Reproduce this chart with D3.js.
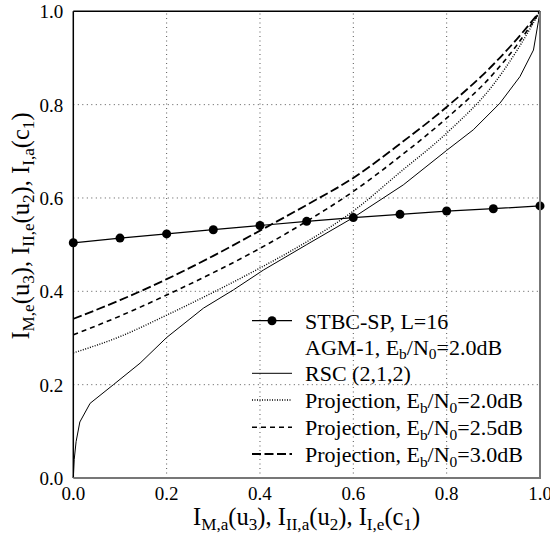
<!DOCTYPE html>
<html>
<head>
<meta charset="utf-8">
<script src="https://cdn.jsdelivr.net/npm/d3@7"></script>
<style>
  body { margin: 0; background: #fff; }
</style>
</head>
<body>
<div id="chart"></div>
<script>
// values
const ticks = [0.0, 0.2, 0.4, 0.6, 0.8, 1.0];
const gridTicks = [0.2, 0.4, 0.6, 0.8];

const stbcX = [0, 0.1, 0.2, 0.3, 0.4, 0.5, 0.6, 0.7, 0.8, 0.9, 1.0];
const stbcY = [0.504, 0.514, 0.523, 0.532, 0.541, 0.550, 0.558, 0.565, 0.572, 0.577, 0.583];

const rscX = [0, 0.002, 0.006, 0.014, 0.036, 0.086, 0.143, 0.2, 0.279, 0.343, 0.408, 0.5, 0.6, 0.707, 0.8, 0.857, 0.914, 0.957, 0.986, 0.997, 1.0];
const rscY = [0, 0.04, 0.078, 0.12, 0.16, 0.2, 0.246, 0.301, 0.364, 0.403, 0.446, 0.5, 0.558, 0.628, 0.702, 0.746, 0.803, 0.86, 0.917, 0.981, 1.0];

const projX = [0, 0.1, 0.2, 0.3, 0.4, 0.5, 0.6, 0.7, 0.8, 0.9, 0.95, 1.0];
const proj20 = [0.268, 0.303, 0.349, 0.398, 0.450, 0.506, 0.572, 0.655, 0.739, 0.843, 0.915, 1.0];
const proj25 = [0.307, 0.347, 0.392, 0.440, 0.492, 0.550, 0.614, 0.689, 0.771, 0.866, 0.927, 1.0];
const proj30 = [0.341, 0.381, 0.426, 0.476, 0.530, 0.585, 0.643, 0.716, 0.795, 0.886, 0.940, 1.0];

const width = 550, height = 535;
const plotLeft = 73.3, plotTop = 11.3, plotW = 466.7, plotH = 466.7;
const font = "'Liberation Serif', 'Times New Roman', 'DejaVu Serif', serif";
const tickSize = 19, legendSize = 22, labelSize = 24.5;

const svg = d3.select("#chart").append("svg")
    .attr("width", width)
    .attr("height", height)
    .attr("font-family", font);

const x = d3.scaleLinear().domain([0, 1]).range([plotLeft, plotLeft + plotW]);
const y = d3.scaleLinear().domain([0, 1]).range([plotTop + plotH, plotTop]);

// grid
const grid = svg.append("g")
    .attr("stroke", "#555")
    .attr("stroke-width", 1)
    .attr("stroke-dasharray", "1,3.5");
grid.selectAll(".gx").data(gridTicks).enter().append("line")
    .attr("x1", d => x(d)).attr("x2", d => x(d))
    .attr("y1", y(0)).attr("y2", y(1));
grid.selectAll(".gy").data(gridTicks).enter().append("line")
    .attr("y1", d => y(d)).attr("y2", d => y(d))
    .attr("x1", x(0)).attr("x2", x(1));

// tick labels
svg.selectAll(".xt").data(ticks).enter().append("text")
    .attr("x", d => x(d))
    .attr("y", y(0) + 22)
    .attr("text-anchor", "middle")
    .attr("font-size", tickSize)
    .text(d => d.toFixed(1));
svg.selectAll(".yt").data(ticks).enter().append("text")
    .attr("x", x(0) - 10)
    .attr("y", d => y(d) + 7)
    .attr("text-anchor", "end")
    .attr("font-size", tickSize)
    .text(d => d.toFixed(1));

// curves
const line = d3.line()
    .x(d => x(d[0]))
    .y(d => y(d[1]));

const zip = (xs, ys) => xs.map((v, i) => [v, ys[i]]);

const series = [
    { data: zip(rscX, rscY), dash: null, w: 1 },
    { data: zip(projX, proj20), dash: "1,1.5", w: 1.4 },
    { data: zip(projX, proj25), dash: "5,4", w: 1.6 },
    { data: zip(projX, proj30), dash: "9,3.5", w: 1.8 }
];
series.forEach(s => {
    svg.append("path")
        .attr("d", line.curve(s.dash ? d3.curveMonotoneX : d3.curveLinear)(s.data))
        .attr("fill", "none")
        .attr("stroke", "#000")
        .attr("stroke-width", s.w)
        .attr("stroke-dasharray", s.dash);
});

const stbc = zip(stbcX, stbcY);
svg.append("path")
    .attr("d", line.curve(d3.curveLinear)(stbc))
    .attr("fill", "none")
    .attr("stroke", "#000")
    .attr("stroke-width", 1.2);
svg.selectAll(".pt").data(stbc).enter().append("circle")
    .attr("cx", d => x(d[0]))
    .attr("cy", d => y(d[1]))
    .attr("r", 4.5)
    .attr("fill", "#000");

// frame
svg.append("line").attr("x1", x(0)).attr("x2", x(1)).attr("y1", y(1)).attr("y2", y(1))
    .attr("stroke", "#000").attr("stroke-width", 1.5);
svg.append("line").attr("x1", x(0)).attr("x2", x(0)).attr("y1", y(0)).attr("y2", y(1))
    .attr("stroke", "#000").attr("stroke-width", 1.5);
svg.append("line").attr("x1", x(1)).attr("x2", x(1)).attr("y1", y(0) + 1).attr("y2", y(1))
    .attr("stroke", "#777").attr("stroke-width", 2);
svg.append("line").attr("x1", x(0)).attr("x2", x(1) + 1).attr("y1", y(0)).attr("y2", y(0))
    .attr("stroke", "#777").attr("stroke-width", 2);

// text with subscripts: parts = [[string, isSub], ...]
function richText(sel, parts, size) {
    let sub = false;
    parts.forEach(p => {
        const t = sel.append("tspan").text(p[0]);
        if (p[1]) t.attr("font-size", size * 0.7);
        if (p[1] && !sub) { t.attr("dy", size * 0.22); sub = true; }
        else if (!p[1] && sub) { t.attr("dy", -size * 0.22); sub = false; }
    });
}

// axis labels
const xl = svg.append("text")
    .attr("x", x(0.5))
    .attr("y", 525)
    .attr("text-anchor", "middle")
    .attr("font-size", labelSize);
richText(xl, [["I"], ["M,a", 1], ["(u"], ["3", 1], ["), I"], ["II,a", 1], ["(u"], ["2", 1], ["), I"], ["I,e", 1], ["(c"], ["1", 1], [")"]], labelSize);

const yl = svg.append("text")
    .attr("transform", "translate(28.5,226) rotate(-90)")
    .attr("text-anchor", "middle")
    .attr("font-size", labelSize);
richText(yl, [["I"], ["M,e", 1], ["(u"], ["3", 1], ["), I"], ["II,e", 1], ["(u"], ["2", 1], ["), I"], ["I,a", 1], ["(c"], ["1", 1], [")"]], labelSize);

// legend
const legendRows = [
    { y: 320.7, kind: "marker", parts: [["STBC-SP, L=16"]] },
    { y: 346.5, kind: "none", parts: [["AGM-1, E"], ["b", 1], ["/N"], ["0", 1], ["=2.0dB"]] },
    { y: 373.3, kind: "solid", parts: [["RSC (2,1,2)"]] },
    { y: 400, kind: "dot", parts: [["Projection, E"], ["b", 1], ["/N"], ["0", 1], ["=2.0dB"]] },
    { y: 427.3, kind: "short", parts: [["Projection, E"], ["b", 1], ["/N"], ["0", 1], ["=2.5dB"]] },
    { y: 454, kind: "long", parts: [["Projection, E"], ["b", 1], ["/N"], ["0", 1], ["=3.0dB"]] }
];
const dashes = { solid: null, dot: "1,1.5", short: "5,4", long: "9,3.5", marker: null };
const widths = { solid: 1, dot: 1.4, short: 1.6, long: 1.8, marker: 1.2 };
const lx0 = 252, lx1 = 292, tx = 305;
legendRows.forEach(r => {
    if (r.kind !== "none") {
        svg.append("line")
            .attr("x1", lx0).attr("x2", lx1)
            .attr("y1", r.y).attr("y2", r.y)
            .attr("stroke", "#000")
            .attr("stroke-width", widths[r.kind])
            .attr("stroke-dasharray", dashes[r.kind]);
    }
    if (r.kind === "marker") {
        svg.append("circle").attr("cx", (lx0 + lx1) / 2).attr("cy", r.y).attr("r", 4.5).attr("fill", "#000");
    }
    const t = svg.append("text").attr("x", tx).attr("y", r.y + 8).attr("font-size", legendSize);
    richText(t, r.parts, legendSize);
});
</script>
</body>
</html>
